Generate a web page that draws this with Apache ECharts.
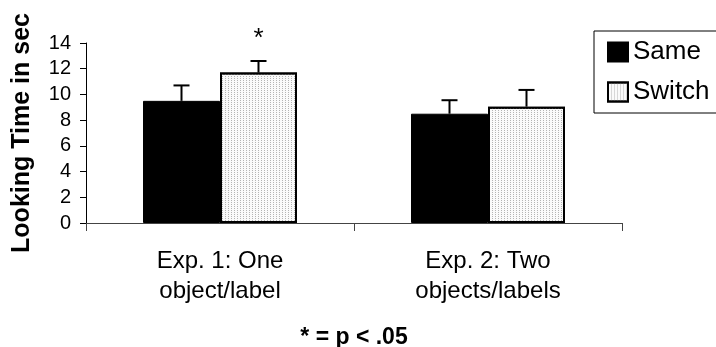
<!DOCTYPE html>
<html>
<head>
<meta charset="utf-8">
<script src="https://cdn.jsdelivr.net/npm/echarts@6/dist/echarts.min.js"></script>
<style>
  html, body { margin: 0; padding: 0; background: #fff; }
  #chart { width: 716px; height: 347px; }
</style>
</head>
<body>
<div id="chart"></div>
<script>
const categories = ['Exp. 1: One\nobject/label', 'Exp. 2: Two\nobjects/labels'];
const seriesNames = ['Same', 'Switch'];
const sameValues = [9.5, 8.5];
const switchValues = [11.7, 9.05];
const sameErrors = [1.2, 1.05];
const switchErrors = [0.9, 1.3];
const significance = ['*', ''];
const yTicks = { min: 0, max: 14, interval: 2 };

const FONT = '"Liberation Sans", Arial, sans-serif';
const BAR_WIDTH = 77;

// error bar (upward only) + optional significance mark
function errorBar(offsetSign, marks) {
  return function (params, api) {
    const cat = api.value(0);
    const mean = api.value(1);
    const err = api.value(2);
    const base = api.coord([cat, mean]);
    const top = api.coord([cat, mean + err]);
    const x = base[0] + offsetSign * BAR_WIDTH / 2;
    const style = { stroke: '#000', lineWidth: 2 };
    const children = [
      { type: 'line', shape: { x1: x, y1: base[1], x2: x, y2: top[1] }, style },
      { type: 'line', shape: { x1: x - 8, y1: top[1], x2: x + 8, y2: top[1] }, style },
    ];
    const mark = marks ? marks[params.dataIndex] : '';
    if (mark) {
      children.push({
        type: 'text',
        style: {
          text: mark, x: x, y: top[1] - 35,
          align: 'center', verticalAlign: 'top',
          font: '26px ' + FONT, fill: '#000',
        },
      });
    }
    return { type: 'group', children };
  };
}

const chart = echarts.init(document.getElementById('chart'));
chart.setOption({
  animation: false,
  textStyle: { fontFamily: FONT, color: '#000' },
  grid: { left: 86, right: 94, top: 43, bottom: 124, containLabel: false, outerBoundsMode: 'none' },
  legend: {
    orient: 'vertical',
    left: 594,
    top: 31,
    padding: [8, 10, 8, 13],
    borderColor: '#000',
    borderWidth: 1,
    itemWidth: 20,
    itemHeight: 19,
    itemGap: 14,
    icon: 'rect',
    textStyle: { fontSize: 26, lineHeight: 26, color: '#000', fontFamily: FONT },
    data: seriesNames,
  },
  xAxis: {
    type: 'category',
    data: categories,
    name: '* = p < .05',
    nameLocation: 'middle',
    nameGap: 115,
    nameTextStyle: { fontSize: 23, fontWeight: 'bold', color: '#000', verticalAlign: 'middle' },
    axisLine: { lineStyle: { color: '#444', width: 1 } },
    axisTick: { show: true, length: 8, interval: 0, lineStyle: { color: '#444' } },
    axisLabel: { fontSize: 24, lineHeight: 30, margin: 23, color: '#000', interval: 0 },
  },
  yAxis: {
    type: 'value',
    min: yTicks.min,
    max: yTicks.max,
    interval: yTicks.interval,
    name: 'Looking Time in sec',
    nameLocation: 'middle',
    nameGap: 51,
    nameTextStyle: { fontSize: 25, fontWeight: 'bold', color: '#000' },
    axisLine: { show: true, lineStyle: { color: '#000', width: 1 } },
    axisTick: { show: true, length: 6, lineStyle: { color: '#000' } },
    axisLabel: { fontSize: 20, margin: 15, color: '#000' },
    splitLine: { show: false },
  },
  series: [
    {
      name: 'Same',
      type: 'bar',
      data: sameValues,
      barWidth: BAR_WIDTH,
      barGap: '0%',
      itemStyle: { color: '#000', borderColor: '#000', borderWidth: 1 },
    },
    {
      name: 'Switch',
      type: 'bar',
      data: switchValues,
      barWidth: BAR_WIDTH,
      barGap: '0%',
      itemStyle: {
        color: '#fafafa',
        borderColor: '#000',
        borderWidth: 2,
        decal: {
          symbol: 'rect',
          symbolSize: 1,
          dashArrayX: [1, 2],
          dashArrayY: [1, 1],
          color: '#b4b4b4',
        },
      },
    },
    {
      type: 'custom',
      renderItem: errorBar(-1, null),
      data: sameValues.map((v, i) => [i, v, sameErrors[i]]),
      encode: { x: 0, y: 1 },
      z: 3,
    },
    {
      type: 'custom',
      renderItem: errorBar(1, significance),
      data: switchValues.map((v, i) => [i, v, switchErrors[i]]),
      encode: { x: 0, y: 1 },
      z: 3,
    },
  ],
});
</script>
</body>
</html>
